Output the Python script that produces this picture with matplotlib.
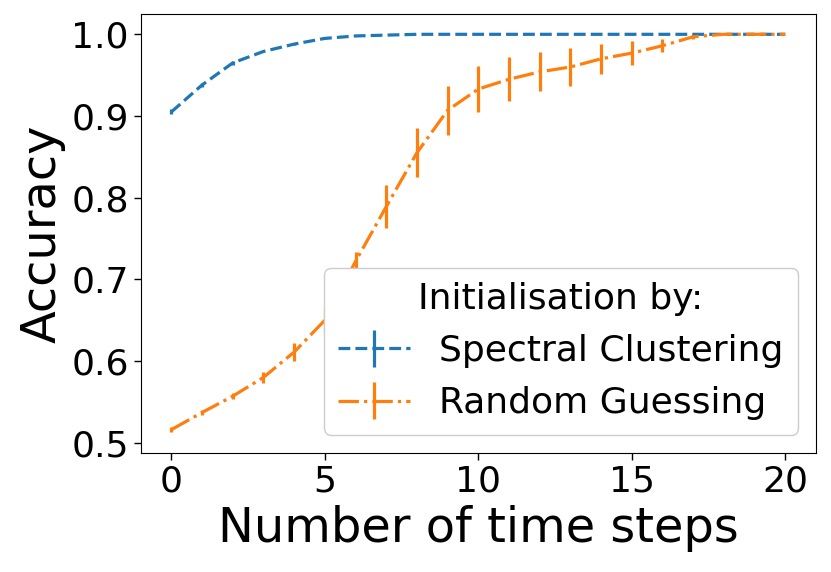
import matplotlib
matplotlib.use('Agg')
import matplotlib.pyplot as plt

# time steps 0..20
steps = list(range(21))

# spectral clustering initialisation
spectral_acc = [0.905, 0.938, 0.965, 0.979, 0.988, 0.995, 0.998, 0.999, 1.0, 1.0,
                1.0, 1.0, 1.0, 1.0, 1.0, 1.0, 1.0, 1.0, 1.0, 1.0, 1.0]
spectral_err = [0.003, 0.002, 0.002, 0.001, 0.001, 0.001, 0.0, 0.0, 0.0, 0.0,
                0.0, 0.0, 0.0, 0.0, 0.0, 0.0, 0.0, 0.0, 0.0, 0.0, 0.0]

# random guessing initialisation
random_acc = [0.516, 0.537, 0.557, 0.580, 0.611, 0.650, 0.722, 0.789, 0.855, 0.907,
              0.933, 0.945, 0.954, 0.960, 0.970, 0.977, 0.986, 0.997, 1.0, 1.0, 1.0]
random_err = [0.003, 0.003, 0.004, 0.007, 0.011, 0.015, 0.012, 0.026, 0.030, 0.030,
              0.028, 0.027, 0.024, 0.023, 0.018, 0.015, 0.008, 0.003, 0.0, 0.0, 0.0]

fig = plt.figure(figsize=(8.31, 5.72), dpi=100)
ax = fig.add_axes([0.1693, 0.2086, 0.8126, 0.7664])

ax.errorbar(steps, spectral_acc, yerr=spectral_err, linestyle='--', linewidth=2.3,
            elinewidth=2.3, color='#1f77b4', label='Spectral Clustering')
ax.errorbar(steps, random_acc, yerr=random_err, linestyle='-.', linewidth=2.3,
            elinewidth=2.3, color='#ff7f0e', label='Random Guessing')

ax.set_xlim(-1, 21)
ax.set_ylim(0.4878, 1.0245)
ax.set_xticks([0, 5, 10, 15, 20])
ax.set_yticks([0.5, 0.6, 0.7, 0.8, 0.9, 1.0])
ax.tick_params(labelsize=26, length=5, width=1)
ax.set_xlabel('Number of time steps', fontsize=34.5, labelpad=5)
ax.set_ylabel('Accuracy', fontsize=34.5)

leg = ax.legend(title='Initialisation by:', fontsize=26, title_fontsize=26,
                loc='lower right', framealpha=1)

fig.savefig('out.png', dpi=100)
